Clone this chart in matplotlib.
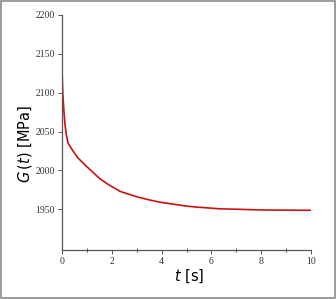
import matplotlib
matplotlib.use("Agg")
import matplotlib.pyplot as plt
from matplotlib.patches import Rectangle
from matplotlib.ticker import MultipleLocator

# relaxation modulus
t_s = [0.0, 0.03, 0.08, 0.12, 0.18, 0.24, 0.4, 0.64, 1.04, 1.53, 1.85,
       2.33, 3.0, 3.5, 3.94, 5.0, 5.5, 6.35, 7.0, 8.0, 9.0, 10.0]
G_mpa = [2131, 2100, 2075, 2059, 2045, 2035.5, 2027, 2016, 2003.5, 1989,
         1982, 1973, 1966, 1962, 1959, 1954, 1952.5, 1950.5, 1950, 1949,
         1948.8, 1948.6]

x_ticks = [0, 2, 4, 6, 8, 10]
y_ticks = [1950, 2000, 2050, 2100, 2150, 2200]

fig = plt.figure(figsize=(3.36, 2.99), dpi=100)
ax = fig.add_axes([62 / 336, 49 / 299, 249 / 336, 235 / 299])

ax.plot(t_s, G_mpa, color="#cc1111", linewidth=1.2)

ax.set_xlim(0, 10)
ax.set_ylim(1897.5, 2200)
ax.set_xticks(x_ticks)
ax.set_yticks(y_ticks)
ax.xaxis.set_minor_locator(MultipleLocator(1))

for side in ("top", "right"):
    ax.spines[side].set_visible(False)
for side in ("left", "bottom"):
    ax.spines[side].set_color("#555555")
    ax.spines[side].set_linewidth(0.9)

ax.tick_params(axis="both", which="major", direction="out", length=3,
               width=0.7, color="#555555", pad=2)
ax.tick_params(axis="x", which="minor", direction="inout", length=3,
               width=0.7, color="#555555")
for lbl in ax.get_xticklabels() + ax.get_yticklabels():
    lbl.set_fontfamily("Liberation Serif")
    lbl.set_fontsize(7)
    lbl.set_color("#333333")

fig.text(25 / 336, 1 - 144 / 299, r"$G\,(t)$ [MPa]", rotation=90,
         ha="center", va="center", fontsize=10.5, family="DejaVu Sans")
fig.text(189 / 336, 1 - 276 / 299, r"$t$ [s]",
         ha="center", va="center", fontsize=10.5, family="DejaVu Sans")

# thin grey frame around the whole image
fig.patches.append(Rectangle((0.004, 0.004), 0.992, 0.992,
                             transform=fig.transFigure, fill=False,
                             edgecolor="#8a8a8a", linewidth=1.2))

fig.savefig("out.png", dpi=100)
